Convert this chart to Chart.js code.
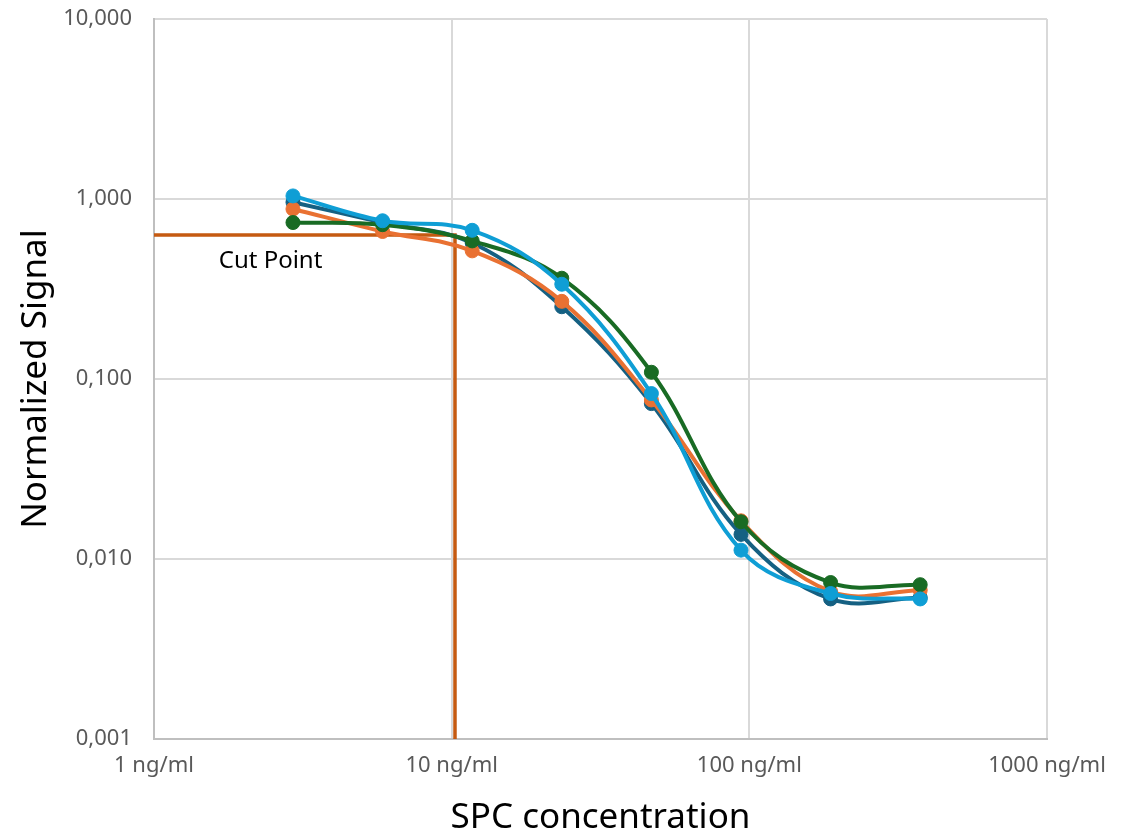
<!DOCTYPE html>
<html>
<head>
<meta charset="utf-8">
<script src="https://cdn.jsdelivr.net/npm/chart.js@4/dist/chart.umd.min.js"></script>
<style>
  html, body { margin: 0; padding: 0; background: #fff; }
  #wrap { width: 1132px; height: 836px; }
</style>
</head>
<body>
<div id="wrap"><canvas id="mycanvas"></canvas></div>
<script>
// concentrations (ng/ml), 2-fold dilution series
var concentrations = [2.93, 5.86, 11.72, 23.44, 46.88, 93.75, 187.5, 375];

var series1 = [0.96, 0.74, 0.57, 0.252, 0.073, 0.0137, 0.0060, 0.0061];
var series2 = [0.88, 0.66, 0.515, 0.27, 0.0765, 0.0163, 0.0066, 0.0067];
var series3 = [0.74, 0.72, 0.585, 0.363, 0.109, 0.0161, 0.0074, 0.0072];
var series4 = [1.04, 0.757, 0.67, 0.336, 0.083, 0.0112, 0.00643, 0.0060];

var seriesNames = ['Series1', 'Series2', 'Series3', 'Series4'];
var seriesColors = ['#156082', '#E97132', '#196B24', '#0F9ED5'];

// cut point line
var cutX = [1, 10.26, 10.26];
var cutY = [0.63, 0.63, 0.001];
var cutLabel = 'Cut Point';
var cutLabelAt = [1.65, 0.45];

var xTicks = [1, 10, 100, 1000];
var yTicks = [0.001, 0.01, 0.1, 1, 10];

function toPoints(xs, ys) {
    return xs.map(function (x, i) { return { x: x, y: ys[i] }; });
}

function makeSeries(name, values, color, order) {
    return {
        label: name,
        data: toPoints(concentrations, values),
        borderColor: color,
        backgroundColor: color,
        pointBackgroundColor: color,
        pointBorderColor: color,
        borderWidth: 4,
        pointRadius: 7,
        pointBorderWidth: 1,
        tension: 0.38,
        fill: false,
        order: order
    };
}

var allSeries = [series1, series2, series3, series4];
var datasets = allSeries.map(function (vals, i) {
    // first series drawn at the bottom, last on top (like Excel)
    return makeSeries(seriesNames[i], vals, seriesColors[i], 3 - i);
});
datasets.push({
    label: 'Cut',
    data: toPoints(cutX, cutY),
    borderColor: '#C55A11',
    borderWidth: 3.5,
    pointRadius: 0,
    tension: 0,
    fill: false,
    order: 10
});

var cutLabelPlugin = {
    id: 'cutLabel',
    afterDatasetsDraw: function (chart) {
        var ctx = chart.ctx;
        var px = chart.scales.x.getPixelForValue(cutLabelAt[0]);
        var py = chart.scales.y.getPixelForValue(cutLabelAt[1]);
        ctx.save();
        ctx.font = '24px "Noto Sans"';
        ctx.fillStyle = '#000000';
        ctx.textAlign = 'left';
        ctx.textBaseline = 'middle';
        ctx.fillText(cutLabel, px, py);
        ctx.restore();
    }
};

var CHART = document.getElementById('mycanvas');

var graph = new Chart(CHART, {
    type: 'line',
    data: { datasets: datasets },
    plugins: [cutLabelPlugin],
    options: {
        responsive: true,
        maintainAspectRatio: false,
        animation: false,
        layout: { padding: { left: 0, right: 85, top: 19, bottom: 0 } },
        plugins: {
            legend: { display: false },
            tooltip: { enabled: false }
        },
        scales: {
            x: {
                type: 'logarithmic',
                min: 1,
                max: 1000,
                afterBuildTicks: function (axis) {
                    axis.ticks = xTicks.map(function (v) { return { value: v }; });
                },
                afterFit: function (axis) {
                    axis.height = 97;
                    axis.paddingLeft = 0;
                    axis.paddingRight = 0;
                },
                ticks: {
                    autoSkip: false,
                    maxRotation: 0,
                    padding: 14,
                    color: '#595959',
                    font: { family: 'Noto Sans', size: 22 },
                    callback: function (v) { return v + ' ng/ml'; }
                },
                grid: { color: '#d9d9d9', lineWidth: 2, drawTicks: false },
                border: { color: '#bfbfbf', width: 2 },
                title: {
                    display: true,
                    text: 'SPC concentration',
                    color: '#000000',
                    font: { family: 'Noto Sans', size: 35, lineHeight: 1 },
                    padding: { top: 0, bottom: 0 }
                }
            },
            y: {
                type: 'logarithmic',
                min: 0.001,
                max: 10,
                afterBuildTicks: function (axis) {
                    axis.ticks = yTicks.map(function (v) { return { value: v }; });
                },
                afterFit: function (axis) {
                    axis.width = 154;
                    axis.paddingTop = 0;
                    axis.paddingBottom = 0;
                },
                ticks: {
                    autoSkip: false,
                    padding: 22,
                    color: '#595959',
                    font: { family: 'Noto Sans', size: 22 },
                    callback: function (v) { return Number(v).toFixed(3).replace('.', ','); }
                },
                grid: { color: '#d9d9d9', lineWidth: 2, drawTicks: false },
                border: { color: '#bfbfbf', width: 2 },
                title: {
                    display: true,
                    text: 'Normalized Signal',
                    color: '#000000',
                    font: { family: 'Noto Sans', size: 35, lineHeight: 1 },
                    padding: { top: 19, bottom: 0 }
                }
            }
        }
    }
});
</script>
</body>
</html>
